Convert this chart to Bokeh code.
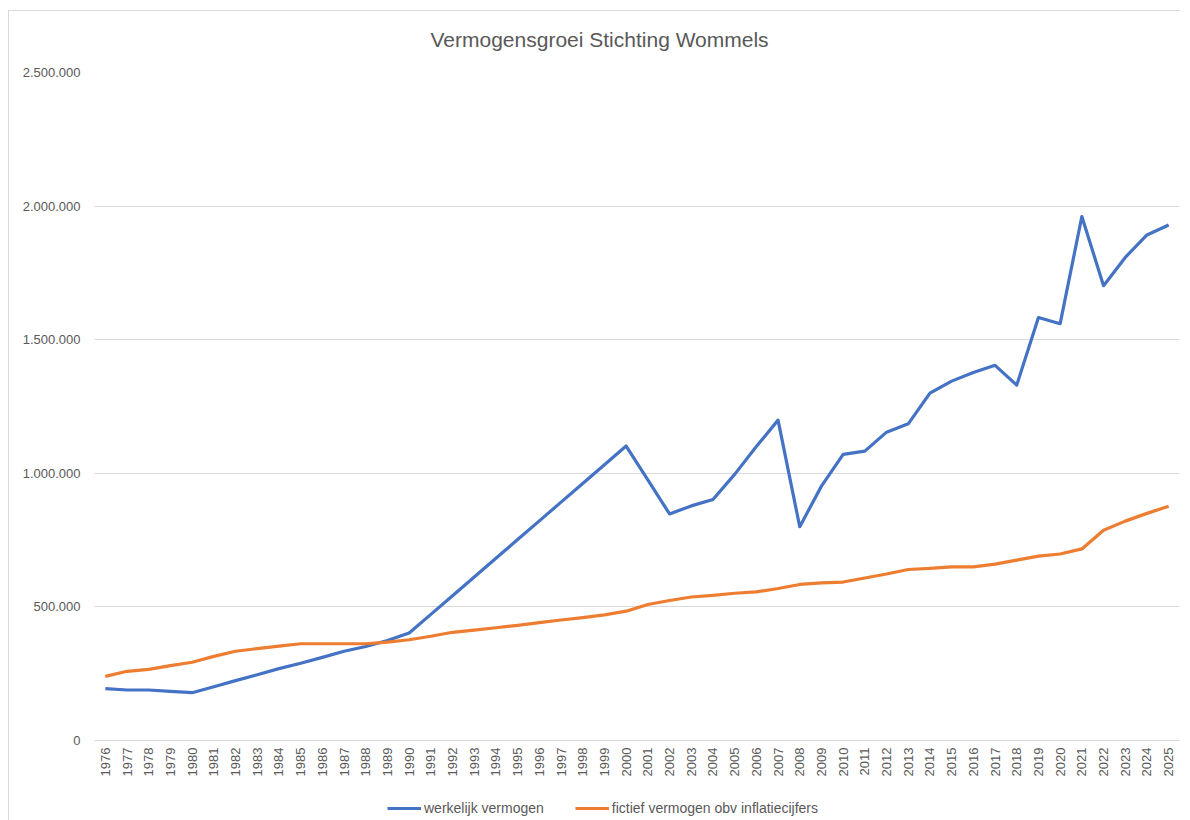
import math
from bokeh.plotting import figure
from bokeh.layouts import column
from bokeh.models import (ColumnDataSource, FixedTicker, CustomJSTickFormatter, Legend,
                          LegendItem, Title)
from bokeh.embed import file_html
from bokeh.resources import INLINE

years = list(range(1976, 2026))
werkelijk = [194000, 189000, 189000, 184000, 179000, 201000, 224000, 246000, 269000, 289000,
             311000, 334000, 352000, 374000, 402000, 472000, 542000, 612000, 682000, 752000,
             822000, 892000, 962000, 1032000, 1102000, 975000, 848000, 878000, 902000, 996000,
             1100000, 1199000, 800000, 952000, 1071000, 1083000, 1154000, 1185000, 1300000, 1345000,
             1377000, 1404000, 1330000, 1583000, 1560000, 1961000, 1702000, 1808000, 1892000, 1929000]
fictief = [240000, 259000, 266000, 280000, 293000, 315000, 334000, 344000, 353000, 362000,
           362000, 362000, 362000, 368000, 377000, 390000, 405000, 413000, 422000, 431000,
           441000, 451000, 460000, 470000, 484000, 509000, 524000, 537000, 543000, 551000,
           556000, 569000, 584000, 590000, 593000, 608000, 623000, 640000, 644000, 650000,
           650000, 660000, 675000, 690000, 698000, 717000, 787000, 821000, 850000, 877000]
series_names = ["werkelijk vermogen", "fictief vermogen obv inflatiecijfers"]
series_colors = ["#4472C4", "#ED7D31"]
title_text = "Vermogensgroei Stichting Wommels"
y_ticks = [0, 500000, 1000000, 1500000, 2000000, 2500000]

src = ColumnDataSource(dict(year=years, w=werkelijk, f=fictief))

FONT = "Liberation Sans"
GREY = "#595959"

p = figure(frame_width=1084, frame_height=667, output_backend="svg", toolbar_location=None,
           x_range=(1975.5, 2025.5), y_range=(0, 2500000),
           min_border_left=85, min_border_right=2, min_border_top=61, min_border_bottom=60)
p.styles = {"margin-left": "8px", "margin-top": "10px",
            "border-left": "1px solid #d9d9d9", "border-top": "1px solid #d9d9d9"}
p.outline_line_color = None
p.background_fill_color = "white"

p.line("year", "w", source=src, line_color=series_colors[0], line_width=3.2, line_join="round")
p.line("year", "f", source=src, line_color=series_colors[1], line_width=3.2, line_join="round")

spacer = Title(text=" ", text_font=FONT, text_font_size="12px", standoff=0, text_color="white")
p.add_layout(spacer, "above")
t = Title(text=title_text, align="left", offset=336, text_font=FONT, text_font_size="21px",
          text_font_style="normal", text_color=GREY, standoff=12)
p.add_layout(t, "above")

p.xaxis.ticker = FixedTicker(ticks=years)
p.xaxis.major_label_orientation = math.pi / 2
p.xaxis.major_label_text_font = FONT
p.xaxis.major_label_text_font_size = "13px"
p.xaxis.major_label_text_color = GREY
p.xaxis.major_tick_line_color = None
p.xaxis.major_tick_out = 0
p.xaxis.major_tick_in = 0
p.xaxis.minor_tick_line_color = None
p.xaxis.minor_tick_out = 0
p.xaxis.axis_line_color = "#d9d9d9"
p.xaxis.major_label_standoff = 7

p.yaxis.ticker = FixedTicker(ticks=y_ticks)
p.yaxis.formatter = CustomJSTickFormatter(
    code="return Math.round(tick).toString().replace(/\\B(?=(\\d{3})+(?!\\d))/g, '.');")
p.yaxis.major_label_text_font = FONT
p.yaxis.major_label_text_font_size = "13px"
p.yaxis.major_label_text_color = GREY
p.yaxis.major_tick_line_color = None
p.yaxis.major_tick_out = 0
p.yaxis.minor_tick_line_color = None
p.yaxis.axis_line_color = None
p.yaxis.major_label_standoff = 14

p.xgrid.grid_line_color = None
p.ygrid.grid_line_color = "#d9d9d9"
p.ygrid.grid_line_width = 1

# legend strip placed under the chart (its own lines lie outside its view range)
lf = figure(width=1170, height=36, toolbar_location=None, output_backend="svg",
            x_axis_type=None, y_axis_type=None, x_range=(0, 1), y_range=(0, 1),
            min_border=0, min_border_left=0, min_border_right=0,
            min_border_top=0, min_border_bottom=0)
lf.outline_line_color = None
lf.background_fill_alpha = 0
lf.border_fill_alpha = 0
lf.grid.visible = False
lf.styles = {"position": "absolute", "top": "784px", "left": "8px",
             "border-left": "1px solid #d9d9d9"}
k1 = lf.line("year", "w", source=src, line_color=series_colors[0], line_width=3.2)
k2 = lf.line("year", "f", source=src, line_color=series_colors[1], line_width=3.2)

legend = Legend(items=[LegendItem(label=series_names[0], renderers=[k1]),
                       LegendItem(label=series_names[1], renderers=[k2])],
                orientation="horizontal", location=(293, 4),
                label_text_font=FONT, label_text_font_size="14px", label_text_color=GREY,
                glyph_width=34, glyph_height=16, label_height=16, spacing=31, padding=4, margin=0,
                label_standoff=3, border_line_color=None, background_fill_alpha=0)
lf.add_layout(legend, "center")

layout = column(p, lf)
open("out.html", "w").write(file_html(layout, INLINE))
